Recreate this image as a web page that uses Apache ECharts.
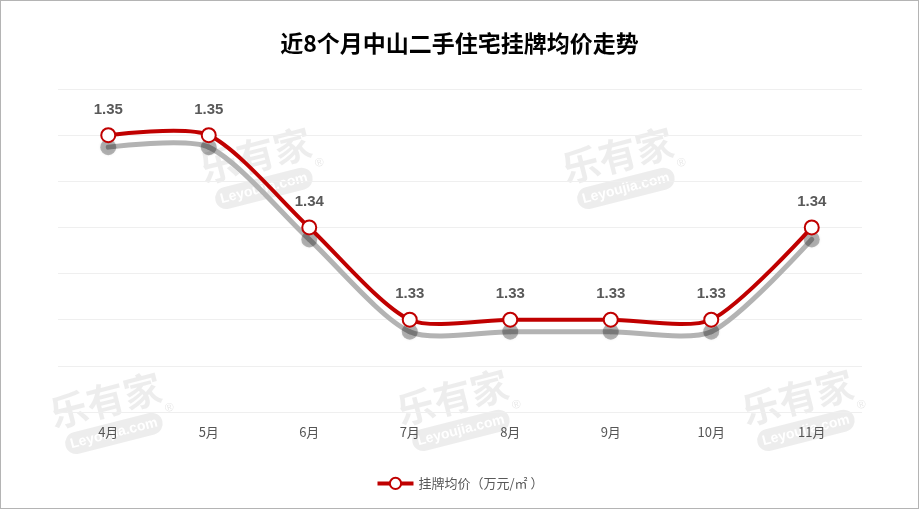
<!DOCTYPE html>
<html>
<head>
<meta charset="utf-8">
<script src="https://cdn.jsdelivr.net/npm/echarts@6/dist/echarts.min.js"></script>
<style>
html,body{margin:0;padding:0;background:#fff;}
#c{width:917px;height:507px;border:1px solid #b4b4b4;}
</style>
</head>
<body>
<div id="c"></div>
<script>
var titleText = '近8个月中山二手住宅挂牌均价走势';
var categories = ['4月','5月','6月','7月','8月','9月','10月','11月'];
var seriesName = '挂牌均价（万元/㎡ ）';
var priceValues = [1.35, 1.35, 1.34, 1.33, 1.33, 1.33, 1.33, 1.34];
var yMin = 1.32, yMax = 1.355, yInterval = 0.005;
var watermarkCenters = [[258,168],[620,168],[108,413],[455,410],[800,410]];

var SMOOTH = 0.25;
var RED = '#c00000';

function watermark(c){
  return {
    type:'group', x:c[0], y:c[1], rotation:0.25, silent:true, z:0,
    children:[
      {type:'text', x:0, y:-14, style:{text:'乐有家', font:'bold 38px "Noto Sans CJK SC"', fill:'rgba(0,0,0,0.07)', align:'center', verticalAlign:'middle'}},
      {type:'rect', shape:{x:-50, y:9, width:100, height:22, r:11}, style:{fill:'rgba(0,0,0,0.07)'}},
      {type:'text', x:0, y:20, style:{text:'Leyoujia.com', font:'bold 14px "Liberation Sans"', fill:'#fff', align:'center', verticalAlign:'middle'}},
      {type:'text', x:60, y:9, style:{text:'®', font:'12px "Liberation Sans"', fill:'rgba(0,0,0,0.1)', align:'center', verticalAlign:'middle'}}
    ]
  };
}

// bezier control points (classic smoothBezier) computed from axis coordinates
function controls(pts, i){
  var n = pts.length;
  var res = [];
  for (var k = 0; k < 2; k++){
    var j = i + k;
    var p = pts[j];
    if (j === 0 || j === n - 1){ res.push([p[0], p[1]]); continue; }
    var prev = pts[j-1], next = pts[j+1];
    var vx = (next[0]-prev[0])*SMOOTH, vy = (next[1]-prev[1])*SMOOTH;
    var d0 = Math.hypot(p[0]-prev[0], p[1]-prev[1]);
    var d1 = Math.hypot(p[0]-next[0], p[1]-next[1]);
    var s = d0 + d1;
    if (k === 0) res.push([p[0] + vx*d1/s, p[1] + vy*d1/s]);
    else res.push([p[0] - vx*d0/s, p[1] - vy*d0/s]);
  }
  return res;
}

function makeRender(color, width, offsetY){
  return function(params, api){
    var i = params.dataIndex;
    if (i >= priceValues.length - 1) return null;
    var pts = priceValues.map(function(v, j){ return api.coord([j, v]); });
    var c = controls(pts, i);
    return {
      type:'bezierCurve', y:offsetY, silent:true,
      shape:{x1:pts[i][0], y1:pts[i][1], x2:pts[i+1][0], y2:pts[i+1][1],
             cpx1:c[0][0], cpy1:c[0][1], cpx2:c[1][0], cpy2:c[1][1]},
      style:{stroke:color, lineWidth:width, fill:null, lineCap:'round'}
    };
  };
}

function renderShadowDot(params, api){
  var p = api.coord([params.dataIndex, priceValues[params.dataIndex]]);
  return {type:'circle', silent:true, shape:{cx:p[0], cy:p[1] + 12, r:8},
    style:{fill:'rgba(0,0,0,0.28)', shadowColor:'rgba(0,0,0,0.25)', shadowBlur:3}};
}

var curveData = priceValues.map(function(v, i){ return [i, v]; });

var chart = echarts.init(document.getElementById('c'), null, {renderer:'canvas'});
chart.setOption({
  animation:false,
  backgroundColor:'#fff',
  title:{text:titleText, left:'center', top:26,
    textStyle:{fontSize:23, fontWeight:'bold', color:'#000', fontFamily:'"Noto Sans CJK SC"'}},
  graphic: watermarkCenters.map(watermark),
  legend:{bottom:13, left:'center', itemWidth:36, itemHeight:14, itemGap:3,
    textStyle:{color:'#595959', fontSize:13, fontFamily:'"Noto Sans CJK SC"'},
    lineStyle:{color:RED, width:4, opacity:1},
    data:[seriesName]},
  grid:{left:57, right:56, top:88, bottom:96},
  xAxis:{type:'category', data:categories, boundaryGap:true,
    axisLine:{show:false}, axisTick:{show:false},
    axisLabel:{color:'#555', fontSize:13, margin:14, fontFamily:'"Noto Sans CJK SC"'}},
  yAxis:{type:'value', min:yMin, max:yMax, interval:yInterval,
    axisLabel:{show:false}, axisLine:{show:false}, axisTick:{show:false},
    splitLine:{lineStyle:{color:'#efefef', width:1}}},
  series:[
    {name:'shadowCurve', type:'custom', coordinateSystem:'cartesian2d', data:curveData, z:2, clip:false,
      renderItem: makeRender('#b3b3b3', 5, 12)},
    {name:'shadowDots', type:'custom', coordinateSystem:'cartesian2d', data:curveData, z:2, clip:false,
      renderItem: renderShadowDot},
    {name:'mainCurve', type:'custom', coordinateSystem:'cartesian2d', data:curveData, z:3, clip:false,
      renderItem: makeRender(RED, 4, 0)},
    {
      name:seriesName, type:'line', data:priceValues,
      symbol:'emptyCircle', symbolSize:14, z:5,
      lineStyle:{color:RED, width:4, opacity:0},
      itemStyle:{color:RED, borderColor:RED, borderWidth:3},
      label:{show:true, position:'top', distance:10, color:'#595959', fontSize:15, fontWeight:'bold', fontFamily:'"Liberation Sans"',
        formatter:function(p){return p.value.toFixed(2);}}
    }]
});
</script>
</body>
</html>
